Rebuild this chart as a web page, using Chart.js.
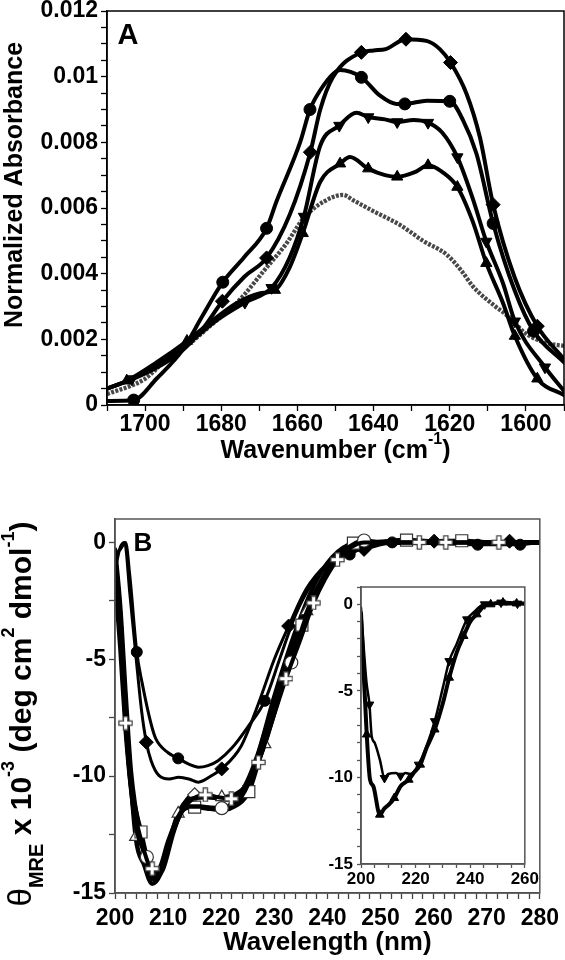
<!DOCTYPE html>
<html>
<head>
<meta charset="utf-8">
<script src="https://cdn.jsdelivr.net/npm/chart.js@4.4.1/dist/chart.umd.min.js"></script>
<style>
html, body { margin: 0; padding: 0; background: #fff; }
#wrap { position: relative; width: 565px; height: 960px; overflow: hidden; background: #fff; }
canvas { position: absolute; }
</style>
</head>
<body>
<div id="wrap">
  <canvas id="chartA" width="565" height="490" style="left:0;top:-20px"></canvas>
  <canvas id="chartB" width="565" height="490" style="left:0;top:470px"></canvas>
  <canvas id="chartIn" width="230" height="340" style="left:310px;top:560px"></canvas>
</div>
<script>
// ---- panel A : FTIR amide I band ----
const aXTickVals = [1700, 1680, 1660, 1640, 1620, 1600]
const aXTickText = ['1700', '1680', '1660', '1640', '1620', '1600']
const aYTickVals = [0, 0.002, 0.004, 0.006, 0.008, 0.01, 0.012]
const aYTickText = ['0', '0.002', '0.004', '0.006', '0.008', '0.01', '0.012']

const aCircWn  = [1710, 1703, 1697, 1690, 1685, 1679.6, 1674, 1668.1, 1665.5, 1659.3, 1656.7, 1654.1, 1650.5, 1648.8, 1643.2, 1638.3, 1634, 1631.8, 1626, 1620, 1616.5, 1613, 1608.6, 1603, 1598, 1590]
const aCircAbs = [0.00012, 0.00015, 0.0008, 0.0017, 0.0027, 0.00374, 0.0045, 0.00538, 0.0062, 0.008, 0.009, 0.00957, 0.0101, 0.0102, 0.00998, 0.00942, 0.00917, 0.00917, 0.00927, 0.00925, 0.00867, 0.00766, 0.00553, 0.0035, 0.00225, 0.0013]
const aCircMarks = [1703, 1679.6, 1668.1, 1656.7, 1643.2, 1631.8, 1620, 1608.6, 1598]

const aDiaWn  = [1710, 1703, 1696, 1690.8, 1685, 1679.7, 1674, 1668.1, 1662, 1656.6, 1654, 1650.7, 1643.2, 1640, 1636.8, 1631.5, 1626.1, 1622.6, 1619.8, 1615.6, 1612.1, 1608.6, 1603, 1597, 1590]
const aDiaAbs = [0.0005, 0.0008, 0.0012, 0.0016, 0.0023, 0.00316, 0.0039, 0.00448, 0.0058, 0.0077, 0.009, 0.00998, 0.01074, 0.0108, 0.01084, 0.01114, 0.01109, 0.01084, 0.01043, 0.00948, 0.00816, 0.0061, 0.0039, 0.0024, 0.0014]
const aDiaMarks = [1679.7, 1668.1, 1656.6, 1643.2, 1631.5, 1619.8, 1608.6, 1597]

const aDownWn  = [1710, 1703.5, 1696, 1688.5, 1681, 1673.8, 1666.8, 1662, 1658.3, 1654, 1649, 1644.5, 1641.4, 1637, 1633.8, 1629.5, 1625.7, 1622, 1618, 1614, 1610.4, 1606, 1602.9, 1595, 1590]
const aDownAbs = [0.0005, 0.00079, 0.0013, 0.0019, 0.0026, 0.00312, 0.00357, 0.0045, 0.00574, 0.0079, 0.00851, 0.0089, 0.00877, 0.0087, 0.00862, 0.00868, 0.0086, 0.0083, 0.00755, 0.0063, 0.00498, 0.0037, 0.00255, 0.00115, 0.00043]
const aDownMarks = [1703.5, 1673.8, 1666.8, 1658.3, 1649, 1641.4, 1633.8, 1625.7, 1618, 1610.4, 1602.9, 1595]

const aUpWn  = [1710, 1704.8, 1697, 1689, 1682, 1676, 1670, 1665.9, 1662, 1658.6, 1654, 1648.8, 1646.2, 1641.4, 1637, 1633.8, 1629, 1625.7, 1622, 1618, 1614, 1610.4, 1606, 1602.9, 1597, 1590]
const aUpAbs = [0.0005, 0.00074, 0.0013, 0.00195, 0.0026, 0.0031, 0.0034, 0.0035, 0.0042, 0.00523, 0.0068, 0.00735, 0.00755, 0.0072, 0.007, 0.00695, 0.0071, 0.0073, 0.0071, 0.00664, 0.0056, 0.00432, 0.0031, 0.0021, 0.0008, 0.0003]
const aUpMarks = [1704.8, 1689, 1665.9, 1658.6, 1648.8, 1641.4, 1633.8, 1625.7, 1618, 1610.4, 1602.9, 1597]

const aGrayWn  = [1710, 1700, 1694.3, 1688, 1683, 1676, 1668, 1663, 1658.3, 1653, 1648, 1645.4, 1640, 1633, 1627, 1620.8, 1617, 1613.9, 1608, 1604.2, 1600.3, 1595, 1590]
const aGrayAbs = [0.00033, 0.0008, 0.0014, 0.0019, 0.0024, 0.0031, 0.0042, 0.0049, 0.0057, 0.0062, 0.0064, 0.00624, 0.0059, 0.00548, 0.005, 0.00458, 0.0041, 0.00361, 0.003, 0.00266, 0.0022, 0.0019, 0.0018]

// ---- panel B : far-UV CD ----
const bXTickVals = [200, 210, 220, 230, 240, 250, 260, 270, 280]
const bXTickText = ['200', '210', '220', '230', '240', '250', '260', '270', '280']
const bYTickVals = [0, -5, -10, -15]
const bYTickText = ['0', '-5', '-10', '-15']

// upper pair, filled markers
const bCircNm  = [200, 201, 202, 202.8, 204.1, 205.1, 206.8, 207.7, 210, 211.9, 214, 215.7, 217.5, 219.4, 222, 225, 228.2, 231, 234, 237, 240, 244.2, 247, 252.2, 260, 268.3, 276.3, 280]
const bCircVal = [-0.5, -0.3, 0, -1.45, -4.69, -6.0, -7.77, -8.41, -9.0, -9.24, -9.5, -9.62, -9.55, -9.34, -8.8, -7.9, -6.78, -5.0, -3.1, -1.8, -1.0, -0.52, -0.2, 0, -0.05, -0.1, -0.1, 0]
const bCircMarks = [204.1, 211.9, 228.2, 244.2, 252.2, 268.3, 276.3]

const bDiaNm  = [200, 201, 201.8, 202.8, 204, 205, 205.9, 206.8, 208.3, 210.2, 212, 213.9, 215.7, 218.2, 220.1, 223.8, 227, 230, 232.7, 236, 240, 243, 246.9, 250, 255, 260.1, 267, 274.3, 280]
const bDiaVal = [-1.2, -0.2, 0, -2.2, -5.0, -7.2, -8.55, -9.34, -9.98, -10.12, -10.05, -10.12, -10.26, -9.98, -9.69, -8.7, -6.9, -5.0, -3.58, -2.0, -0.9, -0.45, -0.3, -0.1, 0, 0.05, 0, 0.05, 0]
const bDiaMarks = [205.9, 220.1, 232.7, 246.9, 260.1, 274.3]

// lower group, open markers
const bSqNm  = [200, 201, 202, 203, 204.9, 206.5, 207.5, 209, 211, 213, 215, 218, 220, 222, 225.2, 227, 229, 232, 235.2, 238, 241, 244.9, 248, 254.9, 260, 265.3, 270, 280]
const bSqVal = [-1.0, -3.8, -7.6, -10.3, -12.39, -13.9, -14.3, -13.8, -12.3, -11.4, -11.33, -11.4, -11.45, -11.35, -10.66, -9.4, -7.9, -5.7, -3.54, -2.0, -0.9, -0.03, 0, 0.1, 0.05, 0.07, 0, 0]
const bSqMarks = [204.9, 215, 225.2, 235.2, 244.9, 254.9, 265.3]

const bTriNm  = [200, 201, 202, 203.9, 205.5, 207, 208.5, 210, 211.9, 214, 217, 220.1, 222.5, 225.1, 228.2, 231, 233, 236.1, 239, 242, 244, 252, 260, 268, 276, 280]
const bTriVal = [-0.5, -3.2, -7.0, -12.6, -13.8, -14.6, -14.2, -13.0, -11.6, -11.0, -10.9, -10.9, -10.8, -10.29, -8.63, -6.5, -4.9, -2.94, -1.6, -0.6, -0.2, 0, 0, 0, 0, 0]
const bTriMarks = [203.9, 211.9, 220.1, 228.2, 236.1]

const bOcNm  = [200, 201, 202, 203, 204, 206, 207, 208.5, 210, 212, 214, 216, 218, 220.1, 222, 224, 226, 228, 230, 233.2, 236, 240, 243, 246.9, 250, 260, 280]
const bOcVal = [-1.5, -4.5, -8.0, -10.5, -12.2, -13.46, -14.1, -13.9, -12.8, -11.7, -11.3, -11.3, -11.35, -11.37, -11.2, -10.8, -9.8, -8.3, -6.9, -5.14, -3.2, -1.2, -0.4, 0.08, 0, 0, 0]
const bOcMarks = [206, 220.1, 233.2, 246.9]

const bOdNm  = [200, 201, 202, 203, 205, 207, 209, 211, 213, 215, 218, 221, 224, 227, 230, 234, 238, 242, 246, 250, 280]
const bOdVal = [-0.3, -2.8, -6.5, -9.8, -12.8, -14.4, -14.0, -12.4, -11.2, -10.8, -10.9, -11.0, -10.6, -9.0, -6.6, -3.8, -1.6, -0.4, 0, 0, 0]
const bOdMarks = [215]

const bPlusNm  = [200, 201, 202, 203, 205, 207, 208.5, 210, 212, 214, 217, 219.5, 221.9, 224, 227, 229.5, 232.2, 235, 237.4, 239.5, 241.9, 244.5, 247, 252, 257.3, 262.3, 267, 272.3, 277, 280]
const bPlusVal = [-0.8, -3.5, -7.73, -10.5, -12.8, -13.96, -14.0, -13.0, -11.8, -11.1, -10.8, -10.9, -10.97, -10.6, -9.41, -7.7, -5.83, -4.1, -2.59, -1.6, -0.74, -0.2, 0, 0, 0, 0, 0, 0, 0, 0]
const bPlusMarks = [202, 207, 217, 221.9, 227, 232.2, 237.4, 241.9, 257.3, 262.3, 272.3]

// ---- inset ----
const inXTickVals = [200, 220, 240, 260]
const inXTickText = ['200', '220', '240', '260']
const inYTickVals = [0, -5, -10, -15]
const inYTickText = ['0', '-5', '-10', '-15']

const inDownNm  = [200, 201, 202, 203.1, 203.9, 205, 206.9, 208.6, 210, 212.8, 214.5, 216.3, 218, 221.1, 224, 227, 230, 232.3, 235, 238.8, 241, 245.3, 248, 251.3, 254, 257.3, 260]
const inDownVal = [-0.19, -2.5, -4.5, -5.79, -7.6, -8.0, -8.97, -10.03, -9.8, -9.75, -9.9, -9.75, -9.8, -9.26, -8.2, -6.75, -4.8, -3.28, -2.3, -0.87, -0.5, 0, 0, 0.1, 0, 0.04, 0]
const inDownMarks = [203.1, 208.6, 214.5, 221.1, 227, 232.3, 238.8, 245.3, 251.3, 257.3]

const inUpNm  = [200, 201, 202.1, 203.3, 204.5, 206.9, 208.5, 210, 212.2, 214.5, 217.5, 219, 221.7, 224, 227, 230, 232.3, 235, 237.6, 240, 242.4, 245, 247.5, 252, 257, 260]
const inUpVal = [-0.5, -4, -7.52, -10.13, -10.5, -12.15, -11.8, -11.6, -11.19, -10.51, -10.13, -9.8, -9.26, -8.3, -7.23, -5.7, -4.24, -2.8, -1.83, -1.0, -0.58, -0.1, 0, 0.1, 0.05, 0.05]
const inUpMarks = [202.1, 206.9, 212.2, 217.5, 221.7, 227, 232.3, 237.6, 242.4, 247.5, 252, 257]

const FONT = "'Liberation Sans', Arial, Helvetica, sans-serif"
Chart.defaults.font.family = FONT
Chart.defaults.color = '#000'

const pts = (xs, ys) => xs.map((x, i) => ({ x, y: ys[i] }))

const pickLabel = (vals, texts) => (v) => {
    const i = vals.findIndex(t => Math.abs(t - v) < 1e-7)
    return i < 0 ? '' : texts[i]
}

const lineSet = (xs, ys, marks, o) => ({
    data: pts(xs, ys),
    borderColor: o.color || '#000',
    borderWidth: o.width,
    borderDash: o.dash || [],
    borderCapStyle: o.dash ? 'butt' : 'round',
    borderJoinStyle: 'round',
    cubicInterpolationMode: 'monotone',
    fill: false,
    pointStyle: o.style || 'circle',
    rotation: o.rot || 0,
    pointRadius: c => (c.raw && marks.includes(c.raw.x)) ? o.r : 0,
    pointHoverRadius: 0,
    pointBackgroundColor: o.fill || '#000',
    pointBorderColor: o.stroke || '#000',
    pointBorderWidth: o.bw || 1
})

// white plus with a grey rim, as in the CD panel
const plusMark = () => {
    const c = document.createElement('canvas')
    c.width = 15; c.height = 15
    const g = c.getContext('2d')
    const arms = (w, cap, a) => {
        g.lineWidth = w; g.lineCap = cap
        g.beginPath(); g.moveTo(7.5, 7.5 - a); g.lineTo(7.5, 7.5 + a)
        g.moveTo(7.5 - a, 7.5); g.lineTo(7.5 + a, 7.5); g.stroke()
    }
    g.strokeStyle = '#444'; arms(5.5, 'square', 4.5)
    g.strokeStyle = '#fff'; arms(3, 'butt', 6)
    return c
}

const tickFont = (size) => ({ family: FONT, size, weight: 'bold' })

const axis = (o) => ({
    type: 'linear',
    reverse: !!o.reverse,
    min: o.min, max: o.max,
    afterFit: s => { if (o.height) s.height = o.height; if (o.width) s.width = o.width },
    ticks: {
        stepSize: o.step, autoSkip: false, maxRotation: 0, minRotation: 0,
        includeBounds: false, padding: o.pad, color: '#000',
        font: tickFont(o.font), callback: pickLabel(o.vals, o.texts)
    },
    grid: { drawOnChartArea: false, drawTicks: true, tickLength: o.tick, tickColor: o.color, tickWidth: 1.3 },
    border: { display: true, color: o.color, width: 1.5 }
})

const richText = (ctx, parts, x, y, vertical) => {
    ctx.save()
    ctx.translate(x, y)
    if (vertical) ctx.rotate(-Math.PI / 2)
    ctx.fillStyle = '#000'
    ctx.textBaseline = 'alphabetic'
    ctx.textAlign = 'left'
    let total = 0
    const widths = parts.map(p => {
        ctx.font = `${p.f} ${FONT}`
        const w = ctx.measureText(p.t).width
        total += w
        return w
    })
    let cx = -total / 2
    parts.forEach((p, i) => {
        ctx.font = `${p.f} ${FONT}`
        ctx.fillText(p.t, cx, p.dy || 0)
        cx += widths[i]
    })
    ctx.restore()
}

const framePlugin = (color) => ({
    id: 'frame',
    afterDatasetsDraw(chart) {
        const { ctx, chartArea: a } = chart
        ctx.save()
        ctx.strokeStyle = color
        ctx.lineWidth = 1.5
        ctx.strokeRect(a.left, a.top, a.right - a.left, a.bottom - a.top)
        ctx.restore()
    }
})

const baseOptions = (padding, scales) => ({
    responsive: false,
    animation: false,
    devicePixelRatio: 1,
    events: [],
    layout: { padding },
    plugins: { legend: { display: false }, tooltip: { enabled: false } },
    scales
})

// ---------- chart A ----------
new Chart(document.getElementById('chartA'), {
    type: 'line',
    data: {
        datasets: [
            lineSet(aDiaWn, aDiaAbs, aDiaMarks, { width: 4, style: 'rectRot', r: 7 }),
            lineSet(aCircWn, aCircAbs, aCircMarks, { width: 4, style: 'circle', r: 6 }),
            lineSet(aDownWn, aDownAbs, aDownMarks, { width: 4, style: 'triangle', rot: 180, r: 6.5 }),
            lineSet(aUpWn, aUpAbs, aUpMarks, { width: 4, style: 'triangle', r: 6.5 }),
            lineSet(aGrayWn, aGrayAbs, [], { width: 4.3, color: '#484848', dash: [3, 1.4], r: 0 })
        ]
    },
    options: baseOptions({ top: 31, right: 1, left: 0, bottom: 0 }, {
        x: axis({ reverse: true, min: 1590, max: 1710, step: 10, vals: aXTickVals, texts: aXTickText,
                  font: 23, pad: 0, tick: 6, height: 65, color: '#000' }),
        y: axis({ min: 0, max: 0.012, step: 0.0005, vals: aYTickVals, texts: aYTickText,
                  font: 23, pad: 3, tick: 6, width: 107, color: '#000' })
    }),
    plugins: [framePlugin('#000'), {
        id: 'textA',
        afterDraw(chart) {
            const ctx = chart.ctx
            const a = chart.chartArea
            richText(ctx, [{ t: 'A', f: 'bold 29px' }], a.left + 21, a.top + 33, false)
            richText(ctx, [{ t: 'Normalized Absorbance', f: 'bold 25px' }], 22, 205, true)
            richText(ctx, [
                { t: 'Wavenumber (cm', f: 'bold 25px' },
                { t: '-1', f: 'bold 16px', dy: -14 },
                { t: ')', f: 'bold 25px' }
            ], (a.left + a.right) / 2, 478, false)
        }
    }]
})

// ---------- chart B ----------
const plusImg = plusMark()
new Chart(document.getElementById('chartB'), {
    type: 'line',
    data: {
        datasets: [
            lineSet(bPlusNm, bPlusVal, bPlusMarks, { width: 4, style: plusImg, r: 6 }),
            lineSet(bOcNm, bOcVal, bOcMarks, { width: 4.5, style: 'circle', r: 6.5, fill: '#fff', stroke: '#333', bw: 1.2 }),
            lineSet(bSqNm, bSqVal, bSqMarks, { width: 4.5, style: 'rect', r: 8.5, fill: '#fff', stroke: '#333', bw: 1.2 }),
            lineSet(bTriNm, bTriVal, bTriMarks, { width: 4.5, style: 'triangle', r: 7, fill: '#fff', stroke: '#333', bw: 1.2 }),
            lineSet(bOdNm, bOdVal, bOdMarks, { width: 4.5, style: 'rectRot', r: 7, fill: '#fff', stroke: '#333', bw: 1.2 }),
            lineSet(bCircNm, bCircVal, bCircMarks, { width: 3, style: 'circle', r: 5.5 }),
            lineSet(bDiaNm, bDiaVal, bDiaMarks, { width: 3, style: 'rectRot', r: 7 })
        ]
    },
    options: baseOptions({ top: 49, right: 18, left: 0, bottom: 0 }, {
        x: axis({ min: 200, max: 280, step: 2, vals: bXTickVals, texts: bXTickText,
                  font: 23, pad: 6, tick: 6, height: 67, color: '#444' }),
        y: axis({ min: -15, max: 1, step: 2.5, vals: bYTickVals, texts: bYTickText,
                  font: 23, pad: 3, tick: 6, width: 115, color: '#444' })
    }),
    plugins: [framePlugin('#555'), {
        id: 'textB',
        afterDraw(chart) {
            const ctx = chart.ctx
            const a = chart.chartArea
            richText(ctx, [{ t: 'B', f: 'bold 26px' }], a.left + 28, a.top + 32, false)
            richText(ctx, [
                { t: 'θ', f: 'normal 33px' },
                { t: 'MRE', f: 'bold 20px', dy: 12 },
                { t: ' x 10', f: 'bold 30px' },
                { t: '-3', f: 'bold 18px', dy: -17 },
                { t: ' (deg cm', f: 'bold 30px' },
                { t: '2', f: 'bold 18px', dy: -17 },
                { t: ' dmol', f: 'bold 30px' },
                { t: '-1', f: 'bold 18px', dy: -17 },
                { t: ')', f: 'bold 30px' }
            ], 31, 244, true)
            richText(ctx, [{ t: 'Wavelength (nm)', f: 'bold 26px' }], (a.left + a.right) / 2, 480, false)
        }
    }]
})

// ---------- inset ----------
new Chart(document.getElementById('chartIn'), {
    type: 'line',
    data: {
        datasets: [
            lineSet(inDownNm, inDownVal, inDownMarks, { width: 2.5, style: 'triangle', rot: 180, r: 5 }),
            lineSet(inUpNm, inUpVal, inUpMarks, { width: 4, style: 'triangle', r: 5 })
        ]
    },
    options: baseOptions({ top: 27, right: 10, left: 0, bottom: 0 }, {
        x: axis({ min: 200, max: 260, step: 5, vals: inXTickVals, texts: inXTickText,
                  font: 17, pad: 1, tick: 4, height: 36, color: '#555' }),
        y: axis({ min: -15, max: 1, step: 1, vals: inYTickVals, texts: inYTickText,
                  font: 17, pad: 4, tick: 4, width: 51, color: '#555' })
    }),
    plugins: [framePlugin('#555')]
})
</script>
</body>
</html>
